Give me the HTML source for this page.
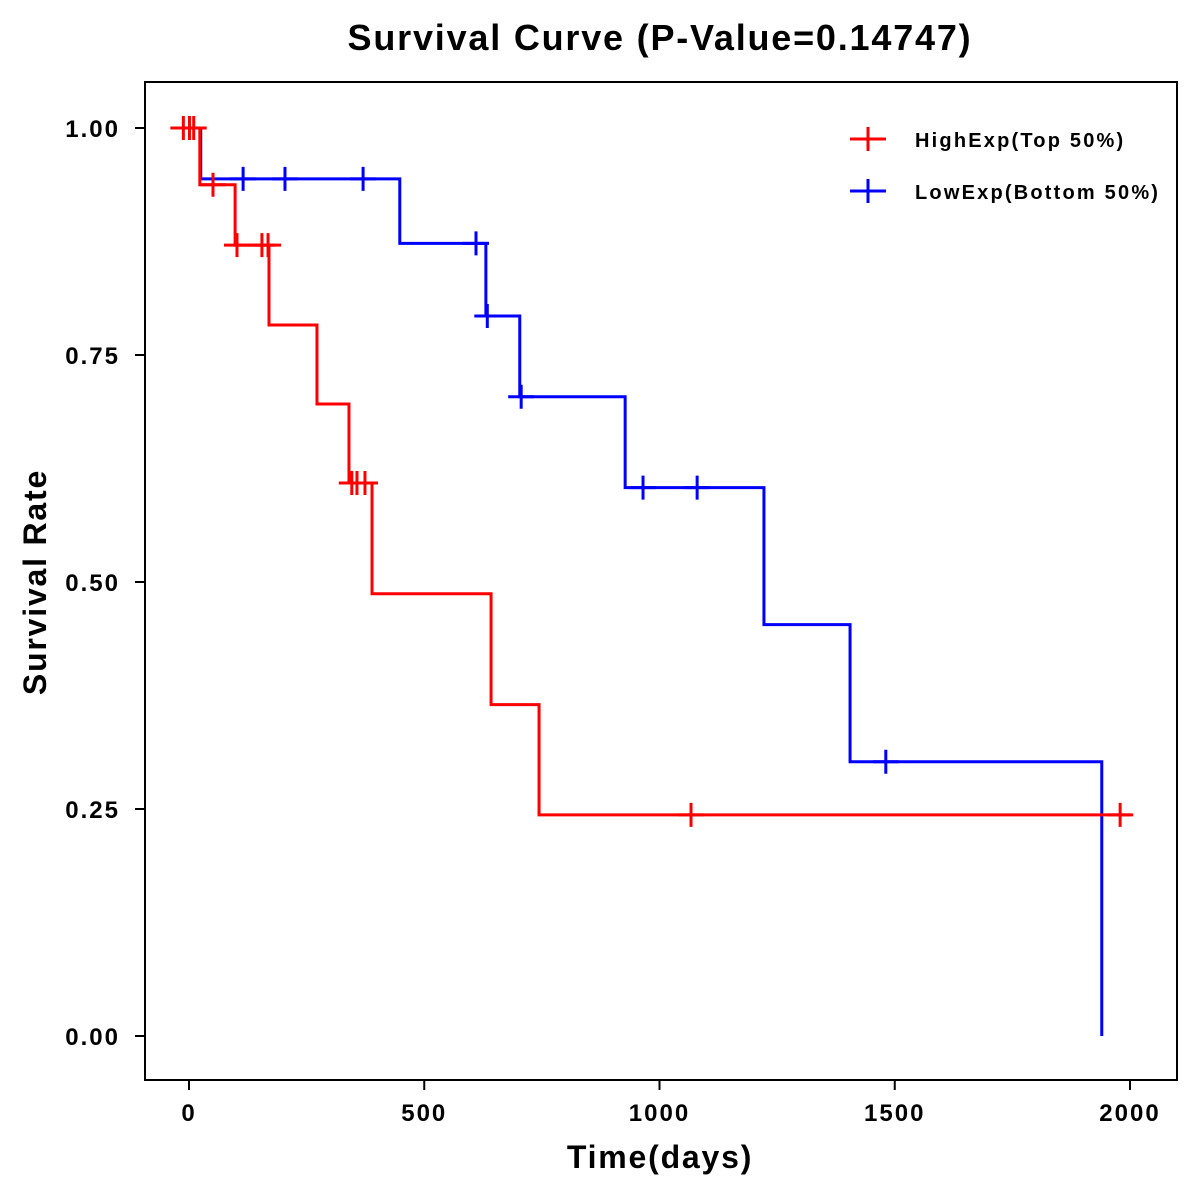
<!DOCTYPE html>
<html><head><meta charset="utf-8"><style>
body{margin:0;background:#fff}
svg{display:block;font-family:"Liberation Sans",Arial,sans-serif;font-weight:bold}
</style></head><body>
<svg id="chart" width="1200" height="1200">
<text x="660" y="50" text-anchor="middle" font-size="36" letter-spacing="1.8">Survival Curve (P-Value=0.14747)</text>
<rect x="145" y="82" width="1032" height="998" fill="none" stroke="#000" stroke-width="2"/>
<g id="axes"></g><g id="series"></g>
<text x="660" y="1168" text-anchor="middle" font-size="32" letter-spacing="1.8">Time(days)</text>
<text transform="translate(46,582) rotate(-90)" text-anchor="middle" font-size="32" letter-spacing="1.8">Survival Rate</text>
<g>
<g><line x1="850" y1="139" x2="886" y2="139" stroke="#f00" stroke-width="3"/><line x1="868" y1="127" x2="868" y2="151" stroke="#f00" stroke-width="3"/><text x="915" y="147" font-size="20" letter-spacing="2.2">HighExp(Top 50%)</text></g>
<g><line x1="850" y1="191" x2="886" y2="191" stroke="#00f" stroke-width="3"/><line x1="868" y1="179" x2="868" y2="203" stroke="#00f" stroke-width="3"/><text x="915" y="199" font-size="20" letter-spacing="2.2">LowExp(Bottom 50%)</text></g>
</g>
</svg>
<script>
const xTicks=[0,500,1000,1500,2000];
const yTicks=[0,0.25,0.5,0.75,1];
const yTickLabels=["0.00","0.25","0.50","0.75","1.00"];
const highTimes=[0,23,98,170,272,340,389,642,744,2000];
const highSurv=[1,0.9375,0.871,0.783,0.696,0.609,0.487,0.365,0.2435,0.2435];
const highCensor=[-12,1,10,51,102,155,168,346,357,374,1067,1979];
const highCensorSurv=[1,1,1,0.9375,0.871,0.871,0.871,0.609,0.609,0.609,0.2435,0.2435];
const lowTimes=[8,25,448,631,703,927,1222,1405,1940,1940];
const lowSurv=[1,0.944,0.873,0.793,0.704,0.604,0.453,0.302,0,0];
const lowCensor=[115,204,370,610,634,706,965,1080,1481];
const lowCensorSurv=[0.944,0.944,0.944,0.873,0.793,0.704,0.604,0.604,0.302];
const sx=d=>189+d*(1130-189)/2000;
const sy=v=>1036-v*908;
const NS="http://www.w3.org/2000/svg";
const ax=document.getElementById('axes'),se=document.getElementById('series');
function mk(tag,at,p){const e=document.createElementNS(NS,tag);for(const k in at)e.setAttribute(k,at[k]);p.appendChild(e);return e;}
xTicks.forEach(t=>{
 const l=mk('line',{x1:sx(t),x2:sx(t),y1:1080,y2:1090,stroke:'#000','stroke-width':2},ax);
 
 
 const tx=mk('text',{x:sx(t),y:1121,'text-anchor':'middle','font-size':24,'letter-spacing':2},ax);tx.textContent=t;
 
 
});
yTicks.forEach((t,i)=>{
 const l=mk('line',{x1:135,x2:145,y1:sy(t),y2:sy(t),stroke:'#000','stroke-width':2},ax);
 
 
 const tx=mk('text',{x:120,y:sy(t)+9,'text-anchor':'end','font-size':24,'letter-spacing':2},ax);tx.textContent=yTickLabels[i];
 
 
});
function curve(times,surv,color,name){
 let d='M'+sx(times[0])+','+sy(surv[0]);
 for(let i=1;i<times.length;i++){d+=' H'+sx(times[i])+' V'+sy(surv[i]);}
 const p=mk('path',{d:d,fill:'none',stroke:color,'stroke-width':3},se);
 
 
}
function censor(ts,vs,color,name){
 ts.forEach((t,i)=>{
  const x=sx(t),y=sy(vs[i]);
  const g=mk('path',{d:`M${x-13},${y}H${x+13}M${x},${y-12}V${y+12}`,stroke:color,'stroke-width':3},se);
  
  
 });
}
curve(lowTimes,lowSurv,'#00f','low-exp-curve');
curve(highTimes,highSurv,'#f00','high-exp-curve');
censor(lowCensor,lowCensorSurv,'#00f','low-censor-mark');
censor(highCensor,highCensorSurv,'#f00','high-censor-mark');
</script>
</body></html>
